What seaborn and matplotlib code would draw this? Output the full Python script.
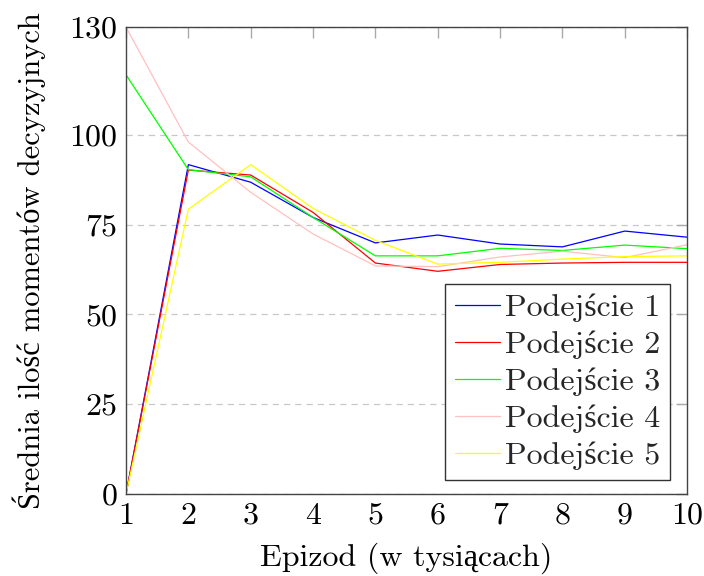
import numpy as np
import pandas as pd
import matplotlib
matplotlib.use("Agg")
import matplotlib.pyplot as plt
import seaborn as sns

episodes = [1, 2, 3, 4, 5, 6, 7, 8, 9, 10]
series_names = ["Podejście 1", "Podejście 2", "Podejście 3", "Podejście 4", "Podejście 5"]
p1 = [0, 91.7, 86.8, 77.0, 69.9, 72.1, 69.6, 68.8, 73.2, 71.5]
p2 = [0, 90.2, 88.8, 78.4, 64.3, 62.0, 63.9, 64.3, 64.5, 64.5]
p3 = [116.7, 90.3, 88.3, 77.0, 66.3, 66.3, 68.4, 67.8, 69.3, 68.3]
p4 = [130, 98.0, 84.0, 72.4, 63.5, 63.3, 66.0, 67.6, 65.8, 69.4]
p5 = [0, 79.3, 91.7, 79.5, 70.6, 64.0, 64.5, 65.4, 66.1, 66.3]
colors = ["#0000ff", "#ff0000", "#00ff00", "#ffc0c0", "#ffff00"]
yticks = [0, 25, 50, 75, 100, 130]

rows = []
for name, vals in zip(series_names, [p1, p2, p3, p4, p5]):
    for x, v in zip(episodes, vals):
        rows.append({"Epizod": x, "Wartosc": v, "Seria": name})
df = pd.DataFrame(rows)

sns.set_theme(style="white")
plt.rcParams["font.family"] = ["cmr10", "Liberation Serif", "DejaVu Serif"]
plt.rcParams["axes.unicode_minus"] = False

FS = 23
fig = plt.figure(figsize=(7.04, 5.76), dpi=100)
ax = fig.add_axes([0.179, 0.1424, 0.797, 0.8106])

sns.lineplot(data=df, x="Epizod", y="Wartosc", hue="Seria",
             palette=dict(zip(series_names, colors)), hue_order=series_names,
             linewidth=0.9, ax=ax, legend=True)

ax.set_xlim(1, 10)
ax.set_ylim(0, 130)
ax.set_xticks(episodes)
ax.set_yticks(yticks)
ax.yaxis.grid(True, linestyle=(0, (5, 4)), color="#c8c8c8", linewidth=0.9)
ax.xaxis.grid(False)
ax.set_axisbelow(True)
for s in ax.spines.values():
    s.set_visible(True)
    s.set_color("#444444")
    s.set_linewidth(1.0)
ax.tick_params(direction="in", length=8, width=1.0, color="#aaaaaa",
               top=True, right=True, labelsize=FS, pad=6, labelcolor="black")
ax.set_xlabel("Epizod (w tysiącach)", fontsize=FS, labelpad=9, color="black")
ax.set_ylabel("Średnia ilość momentów decyzyjnych", fontsize=22, color="black")
ax.yaxis.set_label_coords(-0.142, 0.5)

leg = ax.legend(loc="lower right", bbox_to_anchor=(0.9697, 0.030), fontsize=FS,
                frameon=True, fancybox=False, borderaxespad=0.0,
                handlelength=1.4, handletextpad=0.18,
                labelspacing=0.27, borderpad=0.3)
leg.get_frame().set_edgecolor("#333333")
leg.get_frame().set_linewidth(1.0)
leg.get_frame().set_alpha(1.0)
for line in leg.get_lines():
    line.set_linewidth(0.9)

fig.savefig("out.png", dpi=100)
